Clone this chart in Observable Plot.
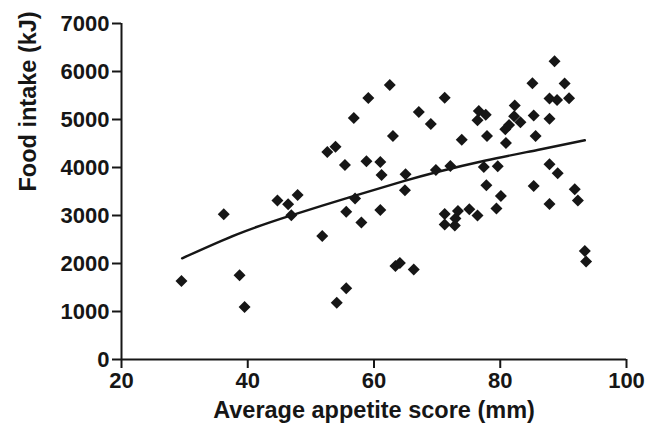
<!DOCTYPE html>
<html><head><meta charset="utf-8">
<script src="https://cdn.jsdelivr.net/npm/d3@7"></script>
<script src="https://cdn.jsdelivr.net/npm/@observablehq/plot@0.6"></script>
<style>body{margin:0;background:#fff} svg{display:block}</style>
</head><body><div id="chart"></div>
<script>
const appetite = [29.5, 36.2, 38.7, 39.5, 44.7, 46.4, 47.9, 46.9, 51.8, 52.6, 53.9, 54.1, 55.4, 55.6, 55.6, 56.8, 57.0, 58.0, 58.8, 59.1,
  61.0, 61.2, 61.0, 62.5, 63.0, 63.4, 64.1, 65.0, 64.9, 66.3, 67.1, 69.0, 69.8, 71.2, 71.2, 71.2, 72.1, 72.8, 72.9, 73.3,
  73.9, 75.1, 76.4, 76.4, 76.6, 77.4, 77.7, 77.8, 77.9, 79.4, 79.6, 80.1, 80.9, 80.8, 81.4, 82.2, 82.3, 83.2, 85.1, 85.3,
  85.3, 85.6, 87.8, 87.8, 87.8, 87.8, 88.6, 89.0, 89.1, 90.2, 90.9, 91.8, 92.3, 93.4, 93.6];
const intake = [1635, 3025, 1754, 1094, 3312, 3233, 3427, 3004, 2573, 4323, 4433, 1183, 4052, 1483, 3079, 5031, 3354, 2854, 4129, 5448,
  4115, 3844, 3115, 5719, 4656, 1948, 2010, 3858, 3525, 1875, 5156, 4906, 3948, 3031, 2813, 5454, 4031, 2792, 2937, 3094,
  4577, 3129, 3000, 4983, 5177, 4010, 5100, 3629, 4656, 3146, 4025, 3406, 4510, 4796, 4885, 5067, 5292, 4944, 5754, 5083,
  3615, 4656, 3240, 4067, 5017, 5438, 6215, 5406, 3881, 5750, 5442, 3546, 3313, 2260, 2042];
const fitAppetite = [29.6, 38.3, 46.9, 57.0, 64.7, 70.0, 77.7, 85.9, 93.4];
const fitIntake = [2108, 2608, 3004, 3413, 3715, 3906, 4146, 4365, 4567];
const xTicks = [20, 40, 60, 80, 100];
const yTicks = [0, 1000, 2000, 3000, 4000, 5000, 6000, 7000];
const xTitle = "Average appetite score (mm)";
const yTitle = "Food intake (kJ)";

const points = appetite.map((a, i) => ({a, k: intake[i]}));
const fit = fitAppetite.map((a, i) => ({a, k: fitIntake[i]}));
const ink = "#161616";

const chart = Plot.plot({
  width: 653, height: 439,
  marginLeft: 121, marginRight: 27, marginTop: 23, marginBottom: 80,
  style: {fontFamily: "'Liberation Sans', Arial, sans-serif", background: "#fff", color: ink},
  x: {domain: [20, 100]},
  y: {domain: [0, 7000]},
  marks: [
    Plot.axisX({ticks: xTicks, tickFormat: "d", tickSize: 9, tickPadding: 4, fontSize: 22, fontWeight: "bold", label: null, strokeWidth: 2}),
    Plot.axisY({ticks: yTicks, tickFormat: "d", tickSize: 9, tickPadding: 3, fontSize: 22, fontWeight: "bold", label: null, strokeWidth: 2}),
    Plot.ruleX([20], {stroke: ink, strokeWidth: 2}),
    Plot.ruleY([0], {stroke: ink, strokeWidth: 2}),
    Plot.line(fit, {x: "a", y: "k", curve: "natural", stroke: ink, strokeWidth: 2.4}),
    Plot.dot(points, {x: "a", y: "k", symbol: "diamond2", r: 5.4, fill: ink, stroke: "none"}),
    Plot.text([xTitle], {frameAnchor: "bottom", dy: 58, fontSize: 23.5, fontWeight: "bold", fill: ink}),
    Plot.text([yTitle], {frameAnchor: "left", dx: -93, rotate: -90, fontSize: 23.5, fontWeight: "bold", fill: ink})
  ]
});
document.getElementById("chart").appendChild(chart);
</script>
</body></html>
